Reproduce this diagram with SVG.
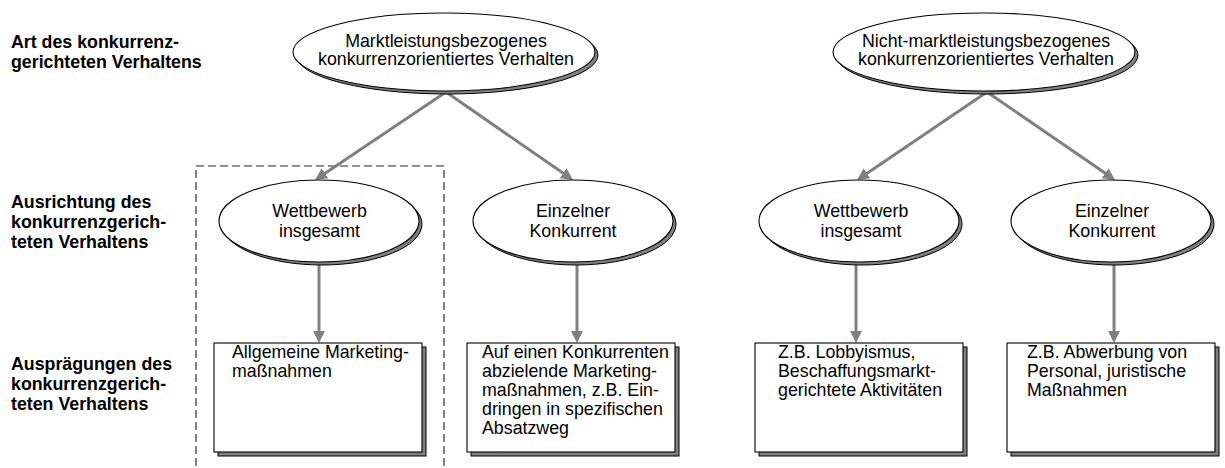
<svg xmlns="http://www.w3.org/2000/svg" width="1225" height="468" viewBox="0 0 1225 468">
<style>
text{font-family:"Liberation Sans",Arial,sans-serif;font-size:17.8px;fill:#000}
.lbl{font-weight:bold}
.c{text-anchor:middle}
.sh{fill:#808080;stroke:#000;stroke-width:1}
.bg{fill:#fff;stroke:#000;stroke-width:1.1}
.con{stroke:#808080;stroke-width:3;fill:none;marker-end:url(#ah)}
.dash{fill:none;stroke:#222;stroke-width:1.1;stroke-dasharray:8 4}
</style>
<defs>
<marker id="ah" markerUnits="userSpaceOnUse" viewBox="0 0 12 12" markerWidth="12" markerHeight="12" refX="2" refY="6" orient="auto">
<path d="M0,0 L12,6 L0,12 z" fill="#808080"/>
</marker>
</defs>
<rect width="1225" height="468" fill="#fff"/>

<g id="labels">
<text class="lbl" x="11" y="48">Art des konkurrenz-</text>
<text class="lbl" x="11" y="68">gerichteten Verhaltens</text>
<text class="lbl" x="11" y="208">Ausrichtung des</text>
<text class="lbl" x="11" y="228">konkurrenzgerich-</text>
<text class="lbl" x="11" y="248">teten Verhaltens</text>
<text class="lbl" x="11" y="370">Ausprägungen des</text>
<text class="lbl" x="11" y="390">konkurrenzgerich-</text>
<text class="lbl" x="11" y="410">teten Verhaltens</text>
</g>

<path id="group-frame" class="dash" d="M196,466 V166 H444 V466"/>

<g id="connectors">
<line class="con" x1="446" y1="92" x2="323.3" y2="174.4"/>
<line class="con" x1="446" y1="92" x2="564.8" y2="174.3"/>
<line class="con" x1="987" y1="92" x2="865.3" y2="174.4"/>
<line class="con" x1="987" y1="92" x2="1106.8" y2="174.3"/>
<line class="con" x1="319" y1="263" x2="319" y2="333"/>
<line class="con" x1="577" y1="263" x2="577" y2="333"/>
<line class="con" x1="856" y1="263" x2="856" y2="333"/>
<line class="con" x1="1114" y1="263" x2="1114" y2="333"/>
</g>

<g id="n-markt">
<ellipse class="sh" cx="447" cy="55" rx="151" ry="39"/>
<ellipse class="bg" cx="444" cy="52" rx="151" ry="39"/>
<text class="c" x="446" y="47">Marktleistungsbezogenes</text>
<text class="c" x="446" y="65">konkurrenzorientiertes Verhalten</text>
</g>

<g id="n-nichtmarkt">
<ellipse class="sh" cx="987" cy="55" rx="151" ry="39"/>
<ellipse class="bg" cx="984" cy="52" rx="151" ry="39"/>
<text class="c" x="986" y="47">Nicht-marktleistungsbezogenes</text>
<text class="c" x="986" y="65">konkurrenzorientiertes Verhalten</text>
</g>

<g id="n-wettbewerb-1">
<ellipse class="sh" cx="322" cy="224" rx="100" ry="41"/>
<ellipse class="bg" cx="319" cy="221" rx="100" ry="41"/>
<text class="c" x="319.5" y="217">Wettbewerb</text>
<text class="c" x="319.5" y="237">insgesamt</text>
</g>

<g id="n-einzelner-1">
<ellipse class="sh" cx="576" cy="224" rx="100" ry="41"/>
<ellipse class="bg" cx="573" cy="221" rx="100" ry="41"/>
<text class="c" x="573" y="217">Einzelner</text>
<text class="c" x="573" y="237">Konkurrent</text>
</g>

<g id="n-wettbewerb-2">
<ellipse class="sh" cx="862" cy="224" rx="100" ry="41"/>
<ellipse class="bg" cx="859" cy="221" rx="100" ry="41"/>
<text class="c" x="861" y="217">Wettbewerb</text>
<text class="c" x="861" y="237">insgesamt</text>
</g>

<g id="n-einzelner-2">
<ellipse class="sh" cx="1114" cy="224" rx="100" ry="41"/>
<ellipse class="bg" cx="1111" cy="221" rx="100" ry="41"/>
<text class="c" x="1112" y="217">Einzelner</text>
<text class="c" x="1112" y="237">Konkurrent</text>
</g>

<g id="b-allgemein">
<rect class="sh" x="218" y="347" width="208" height="109"/>
<rect class="bg" x="214" y="343" width="208" height="109"/>
<text x="232" y="358">Allgemeine Marketing-</text>
<text x="232" y="377">maßnahmen</text>
</g>

<g id="b-konkurrent">
<rect class="sh" x="471" y="347" width="208" height="109"/>
<rect class="bg" x="467" y="343" width="208" height="109"/>
<text x="482" y="358">Auf einen Konkurrenten</text>
<text x="482" y="377">abzielende Marketing-</text>
<text x="482" y="396">maßnahmen, z.B. Ein-</text>
<text x="482" y="415">dringen in spezifischen</text>
<text x="482" y="434">Absatzweg</text>
</g>

<g id="b-lobby">
<rect class="sh" x="759" y="347" width="208" height="109"/>
<rect class="bg" x="755" y="343" width="208" height="109"/>
<text x="778" y="358">Z.B. Lobbyismus,</text>
<text x="778" y="377">Beschaffungsmarkt-</text>
<text x="778" y="396">gerichtete Aktivitäten</text>
</g>

<g id="b-abwerbung">
<rect class="sh" x="1011" y="347" width="208" height="109"/>
<rect class="bg" x="1007" y="343" width="208" height="109"/>
<text x="1027" y="358">Z.B. Abwerbung von</text>
<text x="1027" y="377">Personal, juristische</text>
<text x="1027" y="396">Maßnahmen</text>
</g>
</svg>
